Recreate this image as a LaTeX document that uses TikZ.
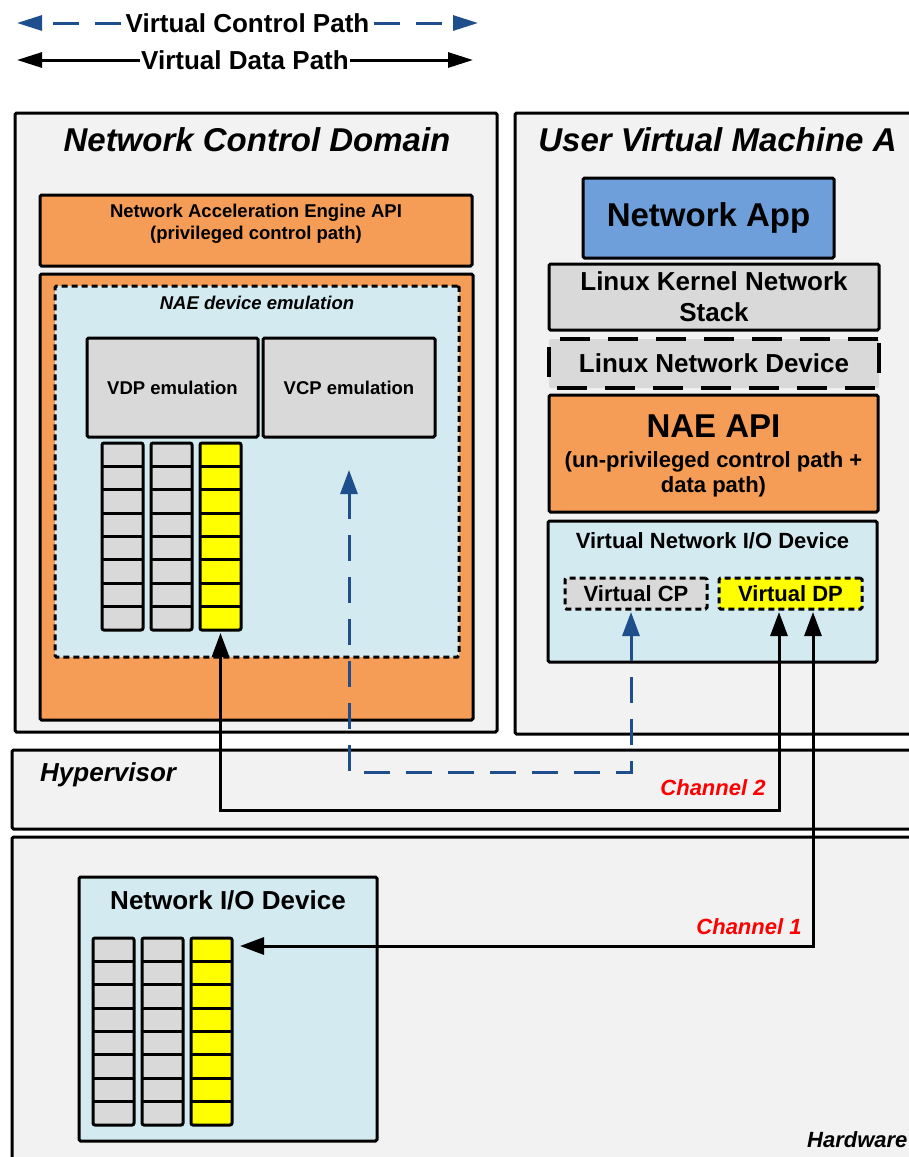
\documentclass[tikz,border=0pt]{standalone}
\usepackage{fontspec}
\setmainfont{Liberation Sans}
\usetikzlibrary{arrows.meta}
\definecolor{bgbox}{HTML}{F2F2F2}
\definecolor{orng}{HTML}{F59D56}
\definecolor{lblue}{HTML}{D2EAF0}
\definecolor{cgray}{HTML}{D9D9D9}
\definecolor{appblue}{HTML}{6F9FDB}
\definecolor{cpblue}{HTML}{1F4E8C}
\definecolor{qyellow}{HTML}{FFFF00}
\definecolor{chred}{HTML}{FF0000}
\tikzset{
  box/.style={draw, line width=3pt, rounded corners=1.5pt, anchor=north west, inner sep=0pt, outer sep=0pt},
  dotbox/.style={box, dash pattern=on 6pt off 4pt},
  lbl/.style={inner sep=0pt, align=center},
  fA/.style={font=\fontsize{18.5pt}{22pt}\selectfont\bfseries},
  fAi/.style={font=\fontsize{18.5pt}{22pt}\selectfont\bfseries\itshape},
  fB/.style={font=\fontsize{22pt}{25pt}\selectfont\bfseries},
  fBi/.style={font=\fontsize{22pt}{25pt}\selectfont\bfseries\itshape},
  fC/.style={font=\fontsize{26pt}{31pt}\selectfont\bfseries},
  fCi/.style={font=\fontsize{26pt}{31pt}\selectfont\bfseries\itshape},
  fD/.style={font=\fontsize{33pt}{36pt}\selectfont\bfseries},
  fDi/.style={font=\fontsize{33pt}{36pt}\selectfont\bfseries\itshape},
  fL/.style={font=\fontsize{26pt}{28pt}\selectfont\bfseries},
  bigtip/.tip={Triangle[width=17pt,length=24pt]},
  legtip/.tip={Triangle[width=15pt,length=25pt]},
  dline/.style={line width=3pt, black},
  cline/.style={line width=3pt, cpblue, dash pattern=on 26pt off 16pt},
}
\newcommand\qcol[4]{%
  \node[box, fill=#4, minimum width=41pt, minimum height=187pt, rounded corners=2pt] (#1) at (#2,#3) {};
  \foreach \k in {1,...,7} \draw[line width=3pt] (#2,#3+\k*23.375) -- (#2+41,#3+\k*23.375);
}
\begin{document}
\begin{tikzpicture}[x=1pt,y=-1pt]
\useasboundingbox (0,0) rectangle (909,1157);
\fill[white] (0,0) rectangle (909,1157);

% Legend
\node[lbl, fL, inner sep=4pt] (lcp) at (247.5,23) {Virtual Control Path};
\coordinate (lcpL) at (17,23);
\coordinate (lcpR) at (478,23);
\draw[cline, -legtip] (lcp.west) -- (lcpL);
\draw[cline, -legtip] (lcp.east) -- (lcpR);
\node[lbl, fL, inner sep=1pt] (ldp) at (245,60) {Virtual Data Path};
\coordinate (ldpL) at (17,60);
\coordinate (ldpR) at (473,60);
\draw[dline, -legtip] (ldp.west) -- (ldpL);
\draw[dline, -legtip] (ldp.east) -- (ldpR);

% Big domains
\node[box, fill=bgbox, minimum width=482pt, minimum height=619pt] (ncd) at (15,113) {};
\node[box, fill=bgbox, minimum width=420pt, minimum height=621pt] (uvm) at (515,113) {};
\node[box, fill=bgbox, minimum width=920pt, minimum height=79pt] (hyp) at (12,750) {};
\node[box, fill=bgbox, minimum width=920pt, minimum height=340pt] (hw) at (12,837) {};

\node[lbl, fDi] (ncdT) at (257,140) {Network Control Domain};
\node[lbl, fDi] (uvmT) at (717.5,140) {User Virtual Machine A};
\node[lbl, fCi, anchor=west] (hypT) at (40,775) {Hypervisor};
\node[lbl, fBi, anchor=west] (hwT) at (807,1140) {Hardware};

% Network Control Domain contents
\node[box, fill=orng, minimum width=432pt, minimum height=71pt] (napi) at (40,195) {};
\node[lbl, fA] (napiT) at (256,224) {Network Acceleration Engine API\\(privileged control path)};
\node[box, fill=orng, minimum width=433pt, minimum height=446pt] (ncore) at (40,274) {};
\node[dotbox, fill=lblue, minimum width=404pt, minimum height=371pt] (emu) at (55,286) {};
\node[lbl, fAi] (emuT) at (257,303) {NAE device emulation};
\node[box, fill=cgray, minimum width=171pt, minimum height=99pt] (vdpe) at (87,338) {};
\node[lbl, fA] (vdpeT) at (vdpe.center) {VDP emulation};
\node[box, fill=cgray, minimum width=172pt, minimum height=99pt] (vcpe) at (263,338) {};
\node[lbl, fA] (vcpeT) at (vcpe.center) {VCP emulation};
\qcol{qa1}{102}{443}{cgray}
\qcol{qa2}{151}{443}{cgray}
\qcol{qa3}{200}{443}{qyellow}

% User VM contents
\node[box, fill=appblue, minimum width=251pt, minimum height=80pt] (app) at (583,178) {};
\node[lbl, fD] (appT) at (app.center) {Network App};
\node[box, fill=cgray, minimum width=330pt, minimum height=66pt] (lkns) at (549,264) {};
\node[lbl, fC] (lknsT) at (lkns.center) {Linux Kernel Network\\Stack};
\node[box, fill=cgray, minimum width=330pt, minimum height=49pt, dash pattern=on 30pt off 18pt, line width=3.5pt] (lnd) at (549,339) {};
\node[lbl, fC] (lndT) at (lnd.center) {Linux Network Device};
\node[box, fill=orng, minimum width=329pt, minimum height=117pt] (uapi) at (549,395) {};
\node[lbl, fD] (uapiT) at (713.5,426) {NAE API};
\node[lbl, fB] (uapiS) at (713.5,474) {(un-privileged control path +\\data path)};
\node[box, fill=lblue, minimum width=329pt, minimum height=141pt] (vnio) at (548,521) {};
\node[lbl, fB] (vnioT) at (712.5,541) {Virtual Network I/O Device};
\node[dotbox, fill=cgray, minimum width=142pt, minimum height=31pt] (vcp) at (565,578) {};
\node[lbl, fB] (vcpT) at (vcp.center) {Virtual CP};
\node[dotbox, fill=qyellow, minimum width=143pt, minimum height=31pt] (vdp) at (719,578) {};
\node[lbl, fB] (vdpT) at (vdp.center) {Virtual DP};

% Hardware contents
\node[box, fill=lblue, minimum width=298pt, minimum height=264pt] (nio) at (79,877) {};
\node[lbl, fC] (nioT) at (228,900) {Network I/O Device};
\qcol{qb1}{93}{938}{cgray}
\qcol{qb2}{142}{938}{cgray}
\qcol{qb3}{191}{938}{qyellow}

% Channel labels
\node[lbl, fBi, text=chred] (ch2) at (713,788) {Channel 2};
\node[lbl, fBi, text=chred] (ch1) at (749,927) {Channel 1};

% Connectors
\coordinate (c2y) at (0,810);
\coordinate (c1y) at (0,946);
\coordinate (cpy) at (0,772);
\coordinate (dpA) at ([xshift=-11.5pt,yshift=-3pt]vdp.south);
\coordinate (dpB) at ([xshift=22.5pt,yshift=-3pt]vdp.south);
\coordinate (qaT) at ([yshift=-3pt]qa3.south);
\coordinate (qbT) at ([xshift=8pt]qb3.east |- c1y);
\draw[dline, bigtip-bigtip] (dpA) -- (dpA |- c2y) -| (qaT);
\draw[dline, bigtip-bigtip] (dpB) -- (dpB |- c1y) -- (qbT);
\coordinate (cpA) at ([yshift=-33pt]vcpe.south);
\coordinate (cpB) at ([xshift=-5pt,yshift=-3pt]vcp.south);
\draw[cline, bigtip-bigtip] (cpA) -- (cpA |- cpy) -| (cpB);
\end{tikzpicture}
\end{document}
